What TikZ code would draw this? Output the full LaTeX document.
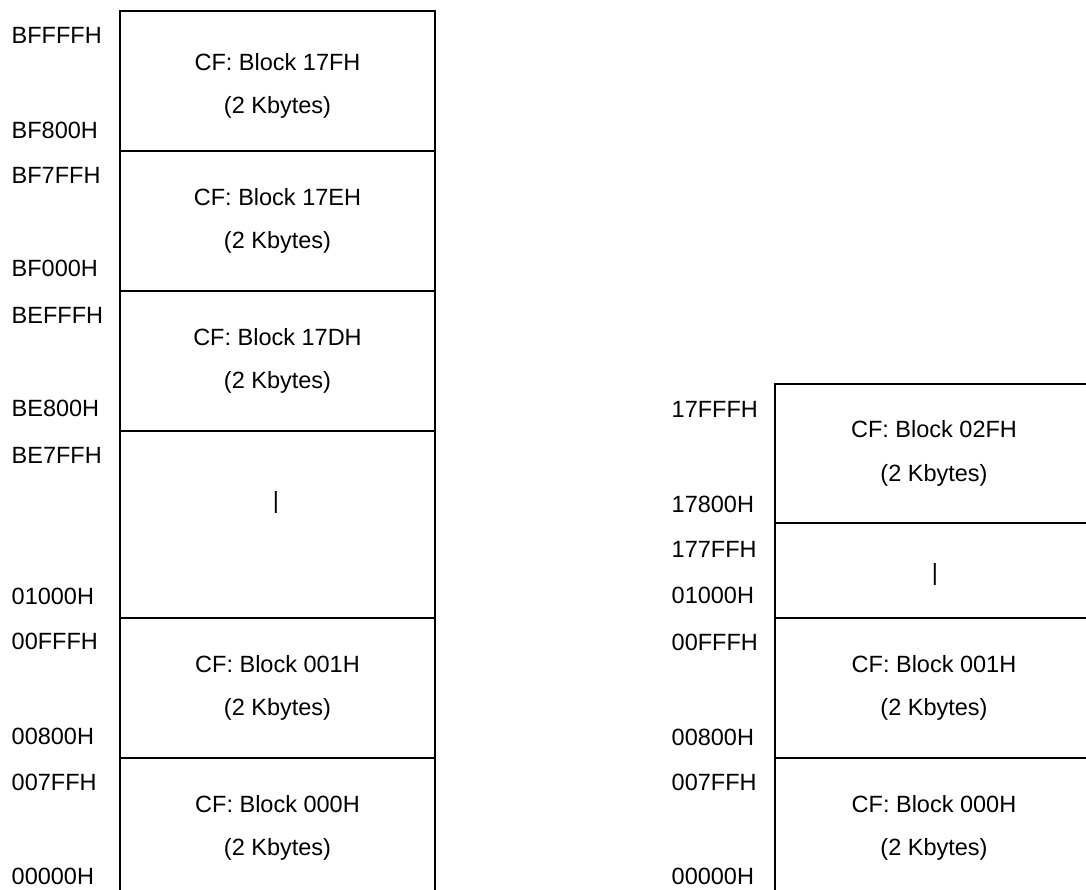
\documentclass[tikz,border=0pt]{standalone}
\usepackage{fontspec}
\setmainfont{Liberation Sans}
\begin{document}
\begin{tikzpicture}[x=1pt,y=-1pt,
  every node/.style={font=\fontsize{23.5}{43.5}\selectfont},
  blk/.style={draw=black,line width=2pt,minimum width=315pt,inner sep=0pt,align=center},
  txt/.style={inner sep=0pt,align=center},
  addr/.style={anchor=west,inner sep=0pt},
  gap/.style={inner sep=0pt}]
\useasboundingbox (0,0) rectangle (1086,890);
\clip (0,0) rectangle (1086,890);
\fill[white] (0,0) rectangle (1086,890);
% left column
\node[blk,minimum height=140pt] (L1) at (277.5,81) {};
\node[txt] (L1t) at (277.5,86) {CF: Block 17FH\\(2 Kbytes)};
\node[blk,minimum height=140pt] (L2) at (277.5,221) {CF: Block 17EH\\(2 Kbytes)};
\node[blk,minimum height=140pt] (L3) at (277.5,361) {CF: Block 17DH\\(2 Kbytes)};
\node[blk,minimum height=187pt] (L4) at (277.5,524.5) {};
\node[blk,minimum height=140pt] (L5) at (277.5,688) {CF: Block 001H\\(2 Kbytes)};
\node[blk,minimum height=140pt] (L6) at (277.5,828) {CF: Block 000H\\(2 Kbytes)};
\node[gap] (Lg) at (276,502) {|};
% right column
\node[blk,minimum width=318pt,minimum height=139pt] (R1) at (934,453.5) {CF: Block 02FH\\(2 Kbytes)};
\node[blk,minimum width=318pt,minimum height=95pt] (R2) at (934,570.5) {};
\node[blk,minimum width=318pt,minimum height=140pt] (R3) at (934,688) {CF: Block 001H\\(2 Kbytes)};
\node[blk,minimum width=318pt,minimum height=140pt] (R4) at (934,828) {CF: Block 000H\\(2 Kbytes)};
\node[gap] (Rg) at (935,574) {|};
% left addresses
\node[addr] (a1) at (11.5,35) {BFFFFH};
\node[addr] (a2) at (11.5,130) {BF800H};
\node[addr] (a3) at (11.5,175) {BF7FFH};
\node[addr] (a4) at (11.5,268) {BF000H};
\node[addr] (a5) at (11.5,315) {BEFFFH};
\node[addr] (a6) at (11.5,408) {BE800H};
\node[addr] (a7) at (11.5,455) {BE7FFH};
\node[addr] (a8) at (11.5,596) {01000H};
\node[addr] (a9) at (11.5,641) {00FFFH};
\node[addr] (a10) at (11.5,736) {00800H};
\node[addr] (a11) at (11.5,782) {007FFH};
\node[addr] (a12) at (11.5,876) {00000H};
% right addresses
\node[addr] (b1) at (671.5,409) {17FFFH};
\node[addr] (b2) at (671.5,504) {17800H};
\node[addr] (b3) at (671.5,549) {177FFH};
\node[addr] (b4) at (671.5,595) {01000H};
\node[addr] (b5) at (671.5,642) {00FFFH};
\node[addr] (b6) at (671.5,737) {00800H};
\node[addr] (b7) at (671.5,782) {007FFH};
\node[addr] (b8) at (671.5,876) {00000H};
\end{tikzpicture}
\end{document}
